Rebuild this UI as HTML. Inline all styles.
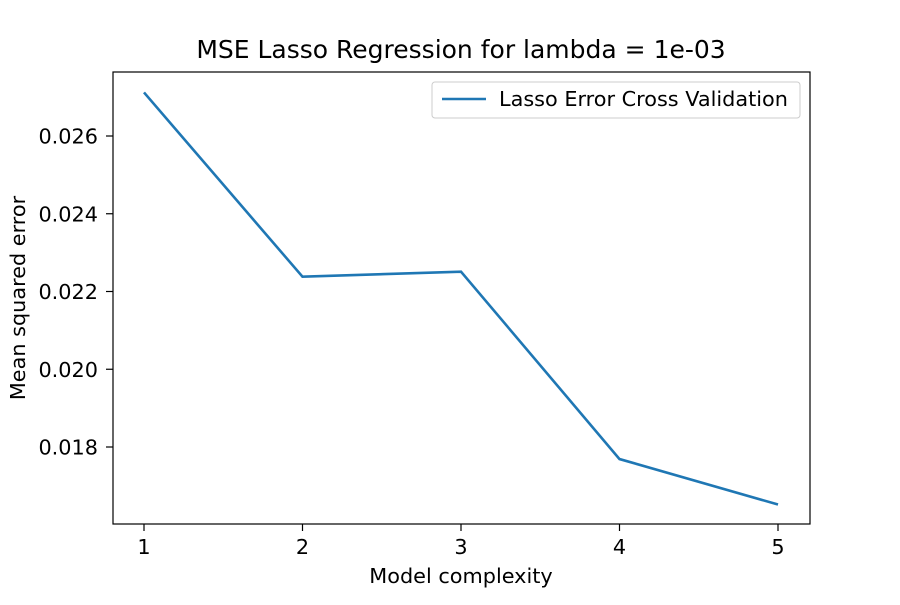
<!DOCTYPE html>
<html><head><meta charset="utf-8"><style>body{margin:0;background:#fff}svg text{font-family:"DejaVu Sans","Liberation Sans",sans-serif;fill:#000}</style></head>
<body>
<svg id="c" width="900" height="600" xmlns="http://www.w3.org/2000/svg">
<rect width="900" height="600" fill="#fff"/>
<text x="461" y="58" font-size="25" text-anchor="middle">MSE Lasso Regression for lambda = 1e-03</text>
<g id="plot"></g>
<rect x="113" y="72" width="697" height="452" fill="none" stroke="#000" stroke-width="1.2"/>
<text x="461" y="583" font-size="20.8" text-anchor="middle">Model complexity</text>
<text transform="translate(25,298) rotate(-90)" font-size="20.8" text-anchor="middle">Mean squared error</text>
<g>
<rect x="432" y="82" width="368" height="36" rx="3" fill="#fff" stroke="#ccc"/>
<line x1="442" y1="99" x2="486" y2="99" stroke="#1f77b4" stroke-width="2.6"/>
<text x="499" y="106" font-size="20.8">Lasso Error Cross Validation</text>
</g>
</svg>
<script>
const categories=[1,2,3,4,5];
const mseValues=[0.02712,0.02238,0.02251,0.01769,0.01652];
const yTicks=[0.018,0.020,0.022,0.024,0.026];
const yTickLabels=["0.018","0.020","0.022","0.024","0.026"];
const NS="http://www.w3.org/2000/svg";
const g=document.getElementById('plot');
function xs(v){return 144+(v-1)*(778-144)/4;}
function ys(v){return 447-(v-0.018)*(447-136)/0.008;}
function mk(t,a){const e=document.createElementNS(NS,t);for(const k in a)e.setAttribute(k,a[k]);g.appendChild(e);return e;}
categories.forEach(c=>{
 const t=mk('line',{x1:xs(c),x2:xs(c),y1:524,y2:531,stroke:'#000','stroke-width':1.2});
 
 
 const l=mk('text',{x:xs(c),y:554,'font-size':20.8,'text-anchor':'middle'});l.textContent=c;
 
 
});
yTicks.forEach((v,i)=>{
 const t=mk('line',{x1:106,x2:113,y1:ys(v),y2:ys(v),stroke:'#000','stroke-width':1.2});
 
 
 const l=mk('text',{x:98,y:ys(v)+7.5,'font-size':20.8,'text-anchor':'end'});l.textContent=yTickLabels[i];
 
 
});
const p=mk('polyline',{points:categories.map((c,i)=>xs(c)+','+ys(mseValues[i])).join(' '),fill:'none',stroke:'#1f77b4','stroke-width':2.6});


</script>
</body></html>
